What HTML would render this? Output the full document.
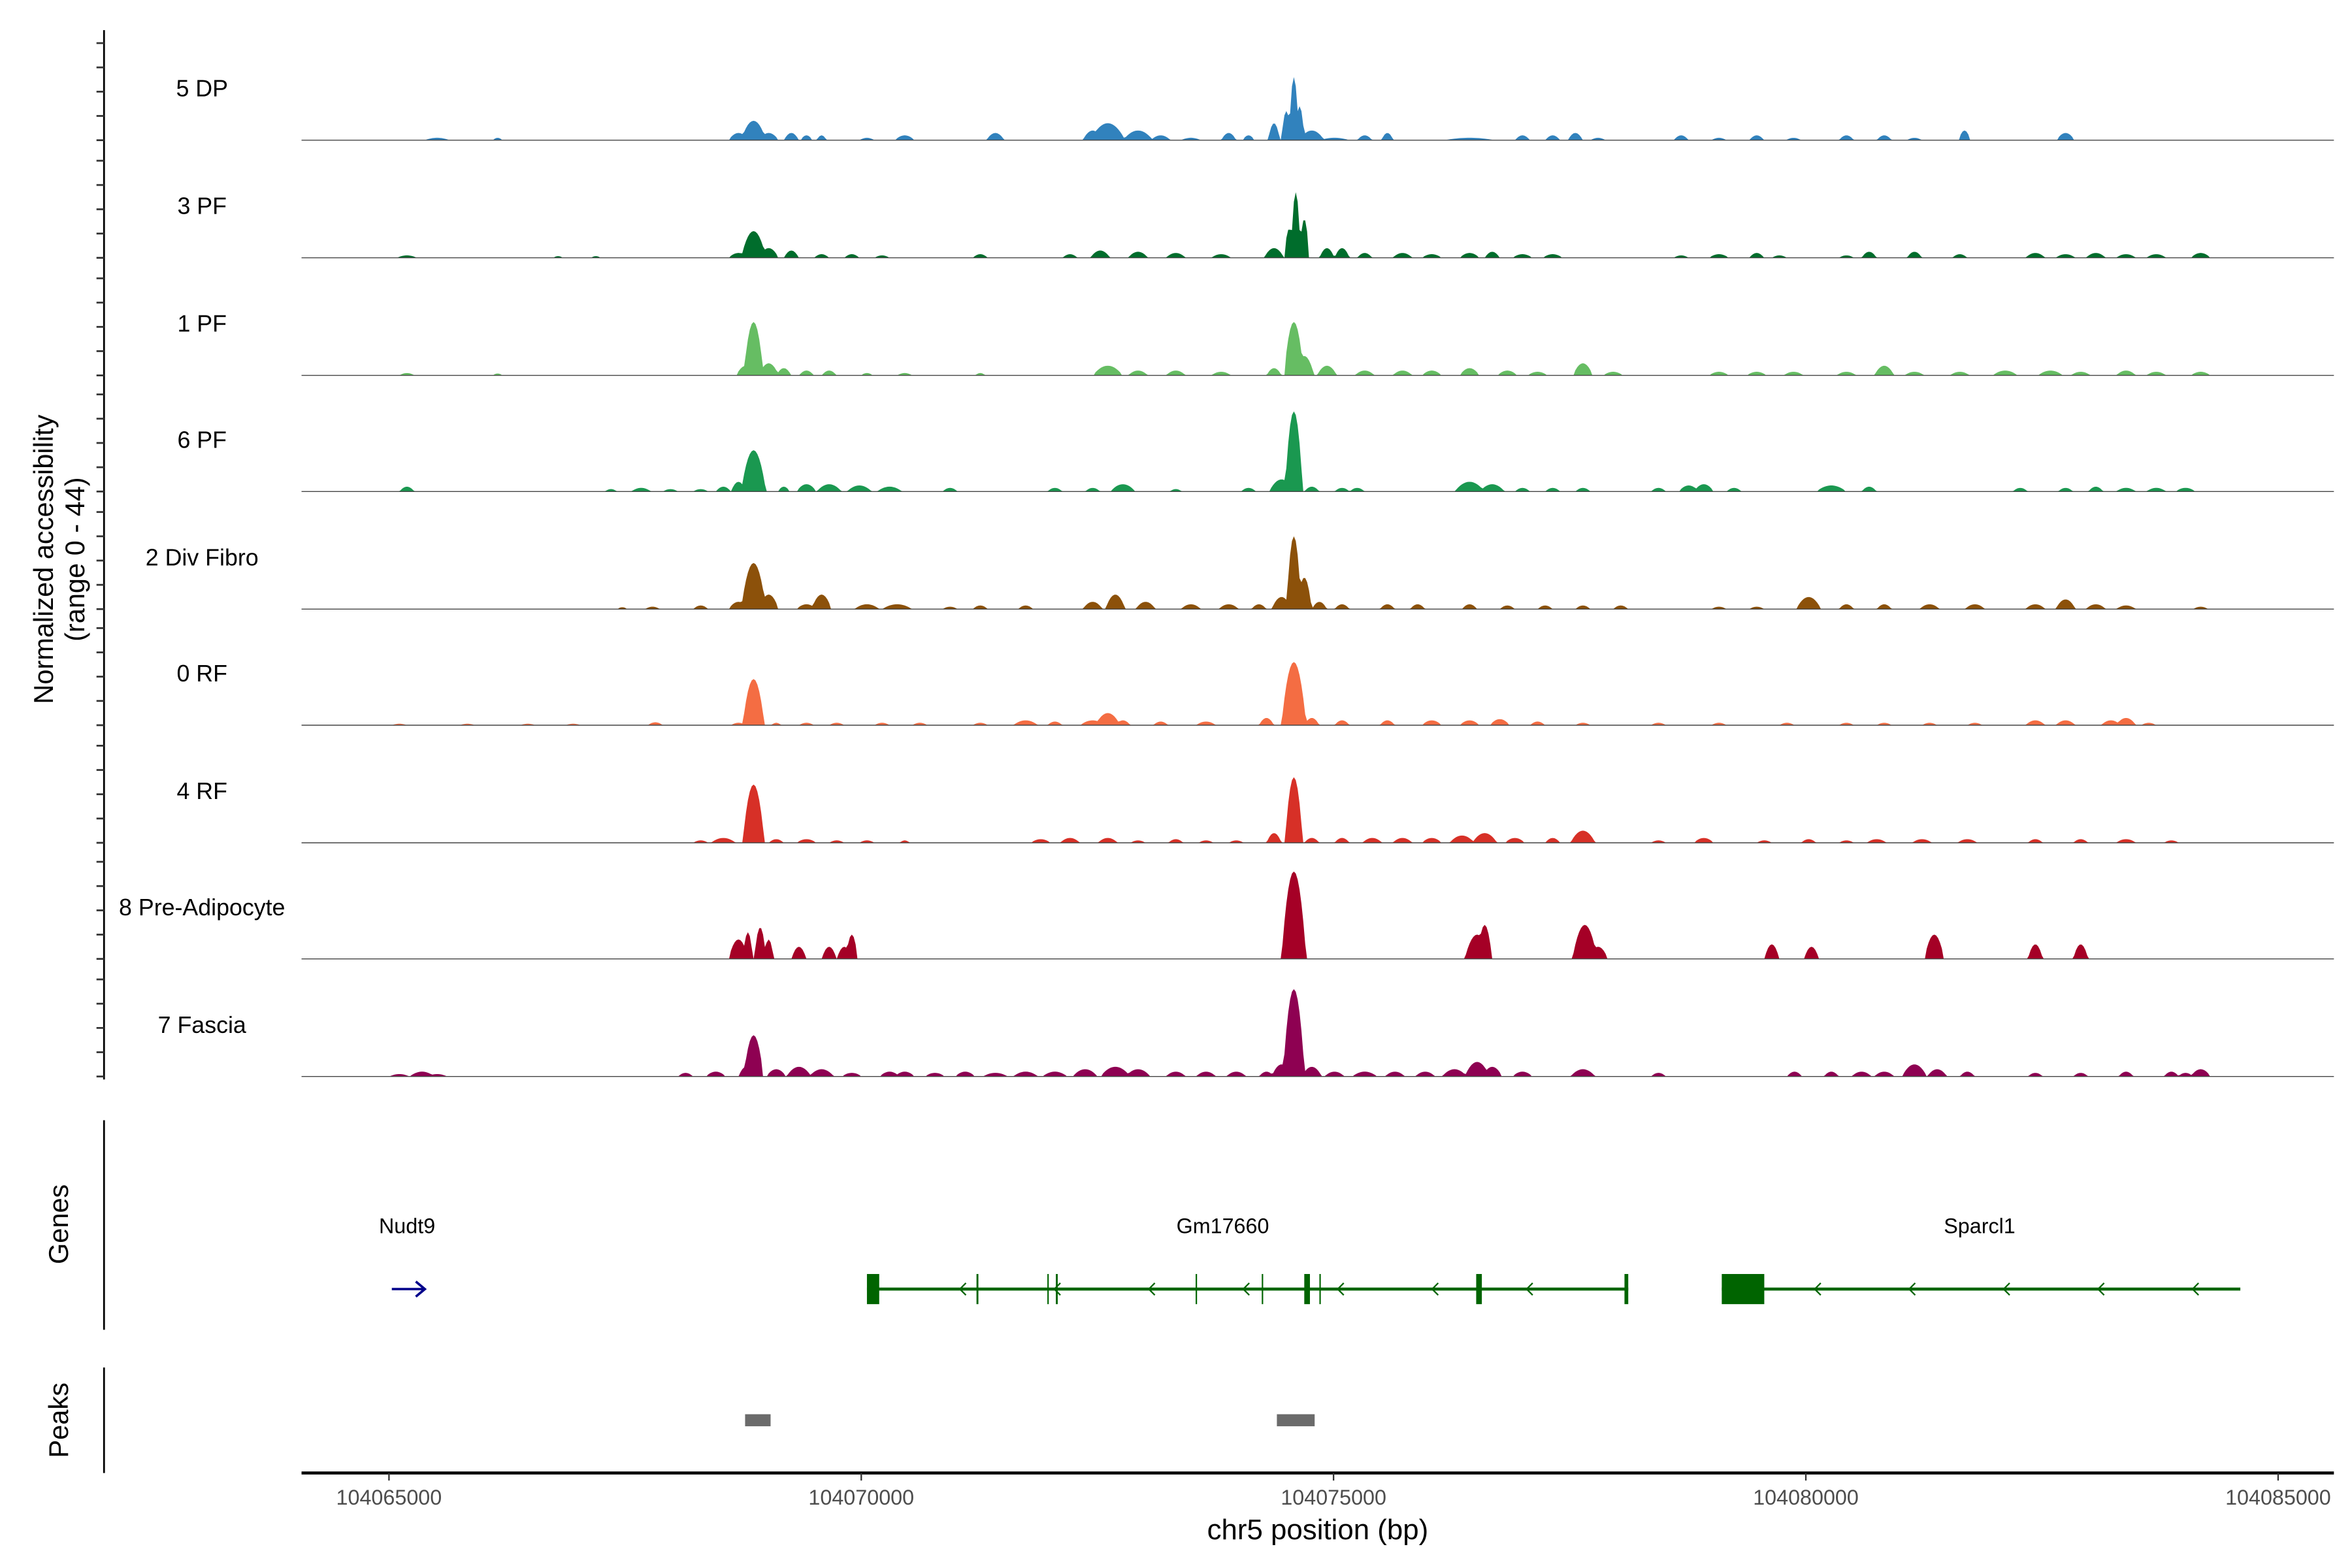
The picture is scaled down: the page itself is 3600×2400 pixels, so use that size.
<!DOCTYPE html>
<html><head><meta charset="utf-8">
<style>
html,body{margin:0;padding:0;background:#fff;}
svg{display:block;}
text{font-family:"Liberation Sans",Arial,sans-serif;}
</style></head>
<body>
<svg id="chart" xmlns="http://www.w3.org/2000/svg" width="3600" height="2400" viewBox="0 0 1560 1040">
<rect x="0" y="0" width="1560" height="1040" fill="#fff"/>
<g id="tracks"></g>
<g id="yaxis"></g>
<text transform="translate(35,371) rotate(-90)" text-anchor="middle" font-size="18" fill="#000">Normalized accessibility</text>
<text transform="translate(56,371) rotate(-90)" text-anchor="middle" font-size="18" fill="#000">(range 0 - 44)</text>
<g id="genes"></g>
<line x1="69" y1="743" x2="69" y2="882" stroke="#000" stroke-width="1.2"/>
<text transform="translate(45,812) rotate(-90)" text-anchor="middle" font-size="18" fill="#000">Genes</text>
<g id="peaks"></g>
<line x1="69" y1="907" x2="69" y2="977" stroke="#000" stroke-width="1.2"/>
<text transform="translate(45,942) rotate(-90)" text-anchor="middle" font-size="18" fill="#000">Peaks</text>
<g id="xaxis"></g>
<text x="874" y="1021" text-anchor="middle" font-size="19" fill="#000">chr5 position (bp)</text>
</svg>
<script>
// ---- data ----
const trackNames = ["5 DP","3 PF","1 PF","6 PF","2 Div Fibro","0 RF","4 RF","8 Pre-Adipocyte","7 Fascia"];
const trackColors = ["#3182bd","#006d2c","#66bd63","#1a9850","#8c510a","#f46d43","#d73027","#a50026","#8e0152"];
const yTicks = [0,10,20,30,40];
const xTicks = [104065000,104070000,104075000,104080000,104085000];
const xTickLabels = ["104065000","104070000","104075000","104080000","104085000"];
// peaks per track: [position bp, height, width bp]
const peaks5DP = [[104065510,1,250],[104066150,1,100],[104068700,3,200],[104068860,8,250],[104069020,3,200],[104069260,3,150],[104069420,2,120],[104069580,2,100],[104070060,1,150],[104070460,2,200],[104071420,3,180],[104072450,4,200],[104072610,7,350],[104072930,4,300],[104073170,2,200],[104073490,1,200],[104073890,3,150],[104074100,2,120],[104074370,7,120],[104074500,12,100],[104074580,26,100],[104074640,14,100],[104074770,4,250],[104075010,1,300],[104075330,2,150],[104075570,3,120],[104076440,1,500],[104077000,2,150],[104077320,2,150],[104077560,3,150],[104077800,1,150],[104078680,2,150],[104079080,1,150],[104079480,2,150],[104079870,1,150],[104080430,2,150],[104080830,2,150],[104081150,1,150],[104081680,4,120],[104082750,3,180]];
const peaks3PF = [[104065190,1,200],[104066790,0.7,100],[104067190,0.7,100],[104068700,2,200],[104068860,11,250],[104069020,4,200],[104069260,3,150],[104069580,1.5,150],[104069900,1.5,150],[104070220,1,150],[104071260,1.5,150],[104072210,1.5,150],[104072530,3,200],[104072930,2.5,200],[104073330,2,200],[104073810,1.5,200],[104074370,4,200],[104074530,12,100],[104074600,27,100],[104074690,16,100],[104074930,4,150],[104075090,4,150],[104075330,2,150],[104075730,2,200],[104076040,1.5,200],[104076440,2,200],[104076680,2.5,150],[104077000,1.5,200],[104077320,1.5,200],[104078680,1,150],[104079080,1.5,200],[104079480,2,150],[104079720,1,150],[104080430,1,150],[104080670,2.5,150],[104081150,2.5,150],[104081630,1.5,150],[104082430,2,200],[104082750,1.5,200],[104083070,2,200],[104083390,1.5,200],[104083710,1.5,200],[104084180,2,200]];
const peaks1PF = [[104065190,1,150],[104066150,0.8,100],[104068780,4,200],[104068860,22,200],[104069020,5,200],[104069180,3,150],[104069420,2,150],[104069660,2,150],[104070060,1,120],[104070460,1,150],[104071260,1,100],[104072610,4,300],[104072930,2,200],[104073330,2,200],[104073810,1.5,200],[104074370,3,150],[104074580,22,200],[104074690,8,200],[104074930,4,200],[104075330,2,200],[104075730,2,200],[104076040,2,200],[104076440,3,200],[104076840,2,200],[104077160,1.5,200],[104077640,5,200],[104077960,1.5,200],[104079080,1.5,200],[104079480,1.5,200],[104079870,1.5,200],[104080430,1.5,200],[104080830,4,200],[104081150,1.5,200],[104081630,1.5,200],[104082110,2,250],[104082590,2,250],[104082910,1.5,200],[104083390,2,200],[104083710,1.5,200],[104084180,1.5,200]];
const peaks6PF = [[104065190,2,150],[104067350,1,120],[104067670,1.5,200],[104067980,1,150],[104068300,1,150],[104068540,2,150],[104068700,4,150],[104068860,17,250],[104069180,2,120],[104069420,3,200],[104069660,3,250],[104069980,2.5,250],[104070300,2,250],[104070940,1.5,150],[104072050,1.5,150],[104072450,1.5,150],[104072770,3,250],[104073330,1,120],[104074100,1.5,150],[104074450,5,250],[104074580,33,180],[104074770,2,150],[104075090,1.5,150],[104075250,1.5,150],[104076440,4,300],[104076680,3,250],[104077000,1.5,150],[104077320,1.5,150],[104077640,1.5,150],[104078440,1.5,150],[104078760,2.5,200],[104078920,3,200],[104079240,1.5,150],[104080270,2.5,300],[104080670,2,150],[104082270,1.5,150],[104082750,1.5,150],[104083070,2,150],[104083390,1.5,200],[104083710,1.5,200],[104084020,1.5,200]];
const peaks2DF = [[104067470,0.8,100],[104067790,1,150],[104068300,1.5,150],[104068700,3,200],[104068860,19,250],[104069020,6,200],[104069420,2,200],[104069580,6,200],[104070060,2,250],[104070380,2,300],[104070940,1,150],[104071260,1.5,150],[104071740,1.5,150],[104072450,3,200],[104072690,6,200],[104073010,3,200],[104073490,2,200],[104073890,2,200],[104074210,2,150],[104074450,5,200],[104074580,30,150],[104074690,13,150],[104074850,3,150],[104075090,2,150],[104075570,2,150],[104075890,2,150],[104076440,2,150],[104076840,1.5,150],[104077240,1.5,150],[104077640,1.5,150],[104078040,1.5,150],[104079080,1,150],[104079480,1,150],[104080030,5,250],[104080430,2,150],[104080830,2,150],[104081310,2,200],[104081790,2,200],[104082430,2,200],[104082750,4,200],[104083070,2,200],[104083390,1.5,200],[104084180,1,150]];
const peaks0RF = [[104065110,0.6,150],[104065830,0.6,150],[104066470,0.6,150],[104066950,0.6,150],[104067820,1.2,150],[104068700,1,150],[104068860,19,220],[104069100,1,100],[104069420,1,150],[104069740,1,150],[104070220,1,150],[104070620,1,150],[104071260,1,150],[104071740,2,250],[104072050,1.5,150],[104072450,2,250],[104072610,5,250],[104072770,2,150],[104073170,1.5,150],[104073650,1.5,200],[104074290,3,150],[104074580,26,250],[104074770,3,150],[104075090,2,150],[104075570,2,150],[104076040,2,200],[104076440,2,200],[104076760,2.5,200],[104077160,1.5,150],[104077640,1,150],[104078440,1,150],[104079080,1,150],[104079800,1,150],[104080430,1,150],[104080830,1,150],[104081310,1,150],[104081790,1,150],[104082430,2,200],[104082750,2,200],[104083230,2,200],[104083390,3,200],[104083630,1,150]];
const peaks4RF = [[104068300,1,150],[104068540,2,250],[104068860,24,220],[104069100,1.5,150],[104069420,1.5,200],[104069740,1,150],[104070060,1,150],[104070460,1,100],[104071900,1.5,200],[104072210,2,200],[104072610,2,200],[104072930,1,150],[104073330,1.5,150],[104073650,1,150],[104073970,1,150],[104074370,4,150],[104074580,27,180],[104074770,2,150],[104075090,2,150],[104075410,2,200],[104075730,2,200],[104076040,2,200],[104076360,3,250],[104076600,4,250],[104076920,2,200],[104077320,2,150],[104077640,5,250],[104078440,1,150],[104078920,2,200],[104079560,1,150],[104080030,1.5,150],[104080430,1,150],[104080750,1.5,200],[104081230,1.5,200],[104081710,1.5,200],[104082430,1.5,150],[104082910,1.5,150],[104083390,1.5,200],[104083870,1,150]];
const peaks8PA = [[104068700,8,200],[104068800,11,100],[104068930,13,120],[104069020,8,100],[104069340,5,150],[104069660,5,150],[104069820,5,150],[104069900,10,120],[104074580,36,250],[104076520,10,250],[104076600,14,150],[104077660,14,250],[104077800,5,200],[104079640,6,150],[104080060,5,150],[104081360,10,200],[104082430,6,150],[104082910,6,150]];
const peaks7FA = [[104065110,1,200],[104065350,2,250],[104065510,1,200],[104068140,1.5,150],[104068460,2,200],[104068780,4,150],[104068860,17,200],[104069100,3,200],[104069340,4,250],[104069580,3,250],[104069900,1.5,200],[104070300,2,200],[104070460,2,200],[104070780,1.5,200],[104071100,2,200],[104071420,1.5,250],[104071740,2,250],[104072050,2,250],[104072370,3,250],[104072690,4,300],[104072930,3,250],[104073330,2,200],[104073650,2,200],[104073970,2,200],[104074290,2,150],[104074450,5,200],[104074580,36,220],[104074770,4,200],[104075010,2,200],[104075330,2,250],[104075650,2,200],[104075970,2,200],[104076280,3,250],[104076520,6,250],[104076680,4,200],[104077000,2,200],[104077640,3,250],[104078440,1.5,150],[104079880,2,150],[104080270,2,150],[104080590,2,200],[104080830,2,200],[104081150,5,250],[104081390,3,200],[104081710,2,150],[104082430,1.5,150],[104082910,1.5,150],[104083390,2,150],[104083870,2,150],[104084020,1.5,150],[104084180,3,200]];
const trackPeaks = [peaks5DP,peaks3PF,peaks1PF,peaks6PF,peaks2DF,peaks0RF,peaks4RF,peaks8PA,peaks7FA];
// genes
const geneNames = ["Nudt9","Gm17660","Sparcl1"];
const geneStarts = [104065030,104070060,104079110];
const geneEnds = [104065380,104078120,104084600];
const geneStrands = ["+","-","-"];
const gm17660Exons = [[104070060,104070190],[104071220,104071240],[104071970,104071985],[104072060,104072080],[104073540,104073555],[104074240,104074255],[104074690,104074750],[104074850,104074865],[104076510,104076570],[104078080,104078120]];
const sparcl1Exons = [[104079110,104079560]];
const peakStarts = [104068770,104074400];
const peakEnds = [104069040,104074800];

// ---- scales ----
const NS="http://www.w3.org/2000/svg";
const X0=258, PX_PER_KB=62.65;
function xScale(bp){return X0+(bp-104065000)/1000*PX_PER_KB;}
const baselines=[93,171,249,326,404,481,559,636,714];
const UNIT=1.61;
function yScale(track,v){return baselines[track]-v*UNIT;}
function mk(tag,attrs,parent){const e=document.createElementNS(NS,tag);for(const k in attrs)e.setAttribute(k,attrs[k]);parent.appendChild(e);return e;}

// ---- tracks ----
const tg=document.getElementById('tracks');
const GRID_START=104064100, GRID_END=104085550, STEP=20;
trackPeaks.forEach((pk,ti)=>{
  let d="M"+xScale(GRID_START)+","+baselines[ti];
  for(let bp=GRID_START;bp<=GRID_END;bp+=STEP){
    let v=0;
    for(const p of pk){const dist=Math.abs(bp-p[0]);const half=p[2]/2;if(dist<half){const r=dist/half;const s=p[1]*(1-r*r*0.9);if(s>v)v=s;}}
    d+="L"+xScale(bp).toFixed(2)+","+yScale(ti,v).toFixed(2);
  }
  d+="L"+xScale(GRID_END)+","+baselines[ti]+"Z";
  const path=mk('path',{d:d,fill:trackColors[ti],stroke:'none'},tg);
  
  
  const ln=mk('line',{x1:200,x2:1548,y1:baselines[ti],y2:baselines[ti],stroke:'#444','stroke-width':0.6},tg);
  
  
  const lb=mk('text',{x:134,y:baselines[ti]-29,'text-anchor':'middle','font-size':15.5,fill:'#000'},tg);
  lb.textContent=trackNames[ti];
  
  
});

// ---- y axis ----
const yg=document.getElementById('yaxis');
const yl=mk('line',{x1:69,x2:69,y1:20,y2:716,stroke:'#000','stroke-width':1.2},yg);


baselines.forEach((b,ti)=>{yTicks.forEach(t=>{
  const y=yScale(ti,t);
  const tk=mk('line',{x1:64,x2:69,y1:y,y2:y,stroke:'#333','stroke-width':1.2},yg);
  
  
});});

// ---- genes ----
const gg=document.getElementById('genes');
const GY=855;
geneNames.forEach((g,i)=>{
  const t=mk('text',{x:i===0?270:(i===1?811:1313),y:818,'text-anchor':'middle','font-size':14,fill:'#000'},gg);
  t.textContent=g;
  
  
});
const nx1=xScale(geneStarts[0]), nx2=xScale(geneEnds[0]);
const na=mk('path',{d:`M${nx1},${GY}L${nx2},${GY}M${nx2-6},${GY-5}L${nx2},${GY}L${nx2-6},${GY+5}`,stroke:'#00008b','stroke-width':1.6,fill:'none'},gg);


function drawGene(i,exons,name){
  const x1=xScale(geneStarts[i]),x2=xScale(geneEnds[i]);
  const l=mk('line',{x1:x1,x2:x2,y1:GY,y2:GY,stroke:'#006400','stroke-width':2},gg);
  
  
  exons.forEach(e=>{
    const ex1=xScale(e[0]),ex2=xScale(e[1]);
    const w=Math.max(ex2-ex1,0.8);
    const r=mk('rect',{x:ex1,y:GY-10,width:w,height:20,fill:'#006400'},gg);
    
    
  });
  for(let bp=geneStarts[i]+1000;bp<geneEnds[i]-300;bp+=1000){
    const ax=xScale(bp);
    const a=mk('path',{d:`M${ax+3},${GY-4}L${ax-1},${GY}L${ax+3},${GY+4}`,stroke:'#006400','stroke-width':1,fill:'none'},gg);
    
    
  }
}
drawGene(1,gm17660Exons,'gm17660');
drawGene(2,sparcl1Exons,'sparcl1');

// ---- peaks ----
const pg=document.getElementById('peaks');
peakStarts.forEach((s,i)=>{
  const r=mk('rect',{x:xScale(s),y:938,width:xScale(peakEnds[i])-xScale(s),height:8,fill:'#6b6b6b'},pg);
  
  
});

// ---- x axis ----
const xg=document.getElementById('xaxis');
const xl=mk('line',{x1:200,x2:1548,y1:977,y2:977,stroke:'#000','stroke-width':2},xg);


xTicks.forEach((t,i)=>{
  const x=xScale(t);
  const tk=mk('line',{x1:x,x2:x,y1:977,y2:982,stroke:'#333','stroke-width':1},xg);
  
  
  const lb=mk('text',{x:x,y:998,'text-anchor':'middle','font-size':14,fill:'#4d4d4d'},xg);
  lb.textContent=xTickLabels[i];
  
  
});
</script>
</body></html>
